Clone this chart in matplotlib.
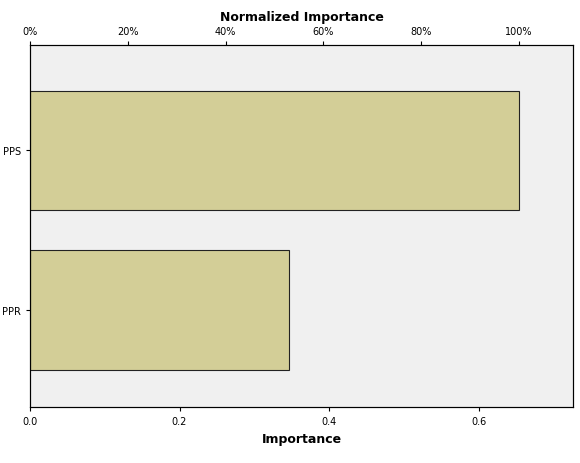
import matplotlib
matplotlib.use("Agg")
import matplotlib.pyplot as plt
from matplotlib.ticker import FuncFormatter

categories = ["PPR", "PPS"]
importance = [0.3465, 0.654]
xticks = [0.0, 0.2, 0.4, 0.6]
pct_ticks = [0, 20, 40, 60, 80, 100]

fig = plt.figure(figsize=(5.8, 4.64), dpi=100)
ax = fig.add_axes([30/580, 1-408/464, 543/580, 362/464])
ax.set_facecolor("#F0F0F0")
ax.barh(range(len(categories)), importance, height=0.75, color="#D3CE97", edgecolor="#222222", linewidth=0.8)
ax.set_yticks(range(len(categories)))
ax.set_yticklabels(categories, fontsize=7)
ax.set_ylim(-0.608, 1.661)
ax.set_xlim(0, 0.7264)
ax.set_xticks(xticks)
ax.xaxis.set_major_formatter(FuncFormatter(lambda v, p: f"{v:.1f}"))
ax.tick_params(labelsize=7, length=3)
ax.set_xlabel("Importance", fontsize=9, fontweight="bold")
for s in ax.spines.values():
    s.set_color("#222222"); s.set_linewidth(0.8)

top = ax.twiny()
mx = max(importance)
top.set_xlim(0, 0.7264 / mx * 100)
top.set_xticks(pct_ticks)
top.set_xticklabels([f"{t}%" for t in pct_ticks])
top.tick_params(labelsize=7, length=3)
top.set_xlabel("Normalized Importance", fontsize=9, fontweight="bold")

fig.savefig("out.png", dpi=100)
